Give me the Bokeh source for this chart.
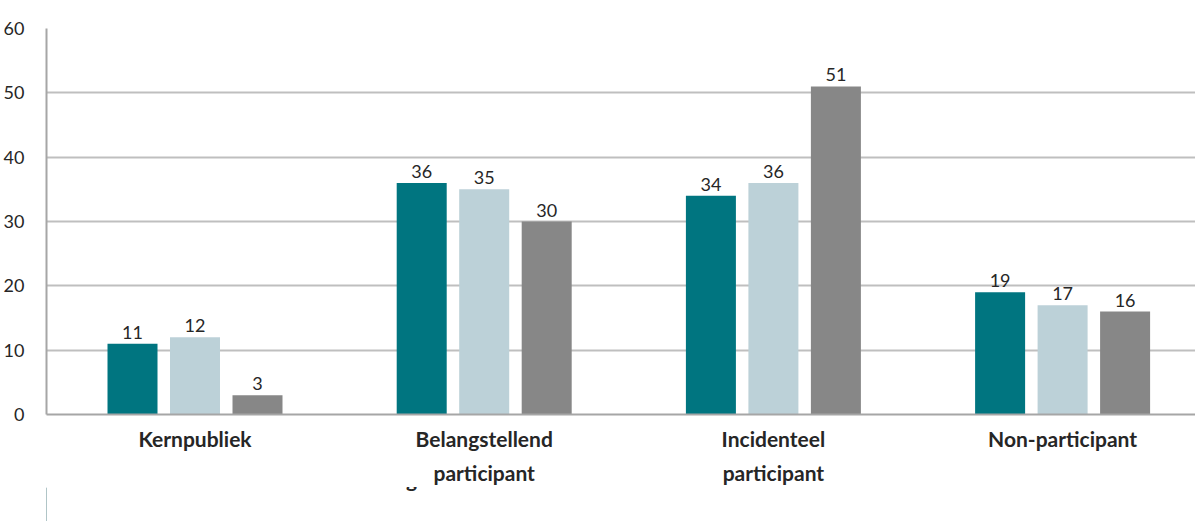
from bokeh.plotting import figure
from bokeh.layouts import column
from bokeh.models import Range1d, Legend, LegendItem, FixedTicker, ColumnDataSource, LinearAxis
from bokeh.core.properties import value
from bokeh.embed import file_html
from bokeh.resources import INLINE

categories = ["Kernpubliek", "Belangstellend\nparticipant", "Incidenteel\nparticipant", "Non-participant"]
series_names = ["Belgische herkomst", "EU-herkomst", "Niet EU-herkomst"]
belgisch = [11, 36, 34, 19]
eu = [12, 35, 36, 17]
niet_eu = [3, 30, 51, 16]
y_ticks = [0, 10, 20, 30, 40, 50, 60]

colors = ["#007580", "#BCD1D8", "#878787"]
FONT = "Lato"
TXT = "#262626"

p = figure(frame_width=1150, frame_height=386, output_backend="svg", toolbar_location=None,
           x_range=Range1d(-0.0135, 3.963), y_range=Range1d(0, 60),
           min_border_left=39, min_border_right=0, min_border_top=28, min_border_bottom=0)
p.outline_line_color = None
p.background_fill_color = "white"

centers = [i + 0.5 for i in range(len(categories))]
offsets = [-0.2161, 0.0, 0.2161]
bw = 0.1729
for vals, off, col in zip([belgisch, eu, niet_eu], offsets, colors):
    xs = [c + off for c in centers]
    src = ColumnDataSource(dict(x=xs, top=vals, lab=[str(v) for v in vals]))
    p.vbar(x="x", top="top", width=bw, bottom=0, source=src, fill_color=col, line_color=None)
    p.text(x="x", y="top", text="lab", source=src, text_align="center", text_baseline="bottom",
           y_offset=-5, text_font=value(FONT), text_font_size="18px", text_color=TXT)

# y axis
p.yaxis.ticker = FixedTicker(ticks=y_ticks)
p.yaxis.major_tick_line_color = None
p.yaxis.minor_tick_line_color = None
p.yaxis.axis_line_color = "#A6A6A6"
p.yaxis.axis_line_width = 2
p.yaxis.major_label_text_font = FONT
p.yaxis.major_label_text_font_size = "18px"
p.yaxis.major_label_text_color = TXT
p.yaxis.major_label_standoff = 16

# category labels, split over two axes (one per text line)
line1 = [c.split("\n")[0] for c in categories]
line2 = [c.split("\n")[1] if "\n" in c else "" for c in categories]

ax1 = p.below[0]
ax1.ticker = FixedTicker(ticks=centers)
ax1.major_label_overrides = {c: lab for c, lab in zip(centers, line1)}
ax1.major_tick_line_color = None
ax1.minor_tick_line_color = None
ax1.axis_line_color = "#A6A6A6"
ax1.axis_line_width = 2
ax1.major_label_text_font = FONT
ax1.major_label_text_font_style = "bold"
ax1.major_label_text_font_size = "21px"
ax1.major_label_text_color = TXT
ax1.major_label_standoff = 5

ax2 = LinearAxis(ticker=FixedTicker(ticks=centers),
                 major_label_overrides={c: lab for c, lab in zip(centers, line2)},
                 major_tick_line_color=None, minor_tick_line_color=None, axis_line_color=None,
                 major_label_text_font=FONT, major_label_text_font_style="bold",
                 major_label_text_font_size="21px", major_label_text_color=TXT,
                 major_label_standoff=0)
p.add_layout(ax2, "below")

p.xgrid.grid_line_color = None
p.ygrid.ticker = FixedTicker(ticks=y_ticks)
p.ygrid.grid_line_color = "#BFBFBF"
p.ygrid.grid_line_width = 2

# legend in a small strip below the chart
lg = figure(width=1189, height=34, output_backend="svg", toolbar_location=None,
            x_range=Range1d(0, 1), y_range=Range1d(0, 1),
            x_axis_location=None, y_axis_location=None,
            min_border_left=0, min_border_right=0, min_border_top=0, min_border_bottom=0)
lg.outline_line_color = None
lg.grid.visible = False
leg_renderers = []
for col in colors:
    r = lg.vbar(x=[-10], top=[1], width=0.1, fill_color=col, line_color=None)
    leg_renderers.append(r)

legend = Legend(items=[LegendItem(label=n, renderers=[r]) for n, r in zip(series_names, leg_renderers)],
                orientation="horizontal", location=(304, 30),
                label_text_font=FONT, label_text_font_style="bold", label_text_font_size="21px",
                label_text_color=TXT, glyph_width=18, glyph_height=18,
                spacing=27, padding=0, margin=0, border_line_color=None, label_standoff=8,
                label_height=18, background_fill_alpha=0)
lg.add_layout(legend)

layout = column(p, lg, spacing=0)
open("out.html", "w").write(file_html(layout, INLINE))
